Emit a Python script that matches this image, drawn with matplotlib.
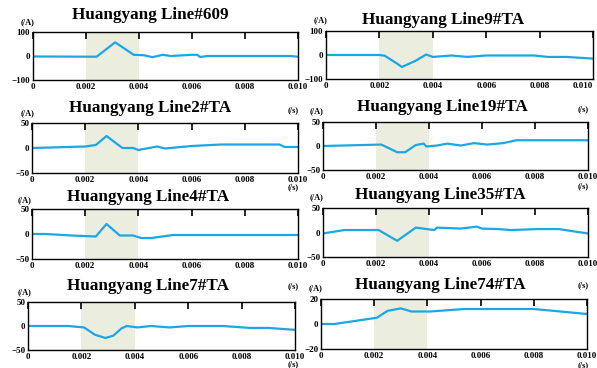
import matplotlib
matplotlib.use("Agg")
import matplotlib.pyplot as plt
from matplotlib.ticker import FuncFormatter

plt.rcParams['font.family'] = ['Liberation Serif', 'DejaVu Serif']
plt.rcParams['font.weight'] = 'bold'

titles = ["Huangyang Line#609", "Huangyang Line9#TA", "Huangyang Line2#TA", "Huangyang Line19#TA",
          "Huangyang Line4#TA", "Huangyang Line35#TA", "Huangyang Line7#TA", "Huangyang Line74#TA"]

# time (s) / current (A)
t_609 = [0, 0.0024, 0.0031, 0.0038, 0.0042, 0.0045, 0.0049, 0.0052, 0.006, 0.0062, 0.0063, 0.0066, 0.0097, 0.010]
i_609 = [-2, -3, 57, 5, 3, -5, 5, 0, 5, 5, -4, 0, 0, -3]
t_9 = [0, 0.002, 0.0022, 0.00265, 0.00284, 0.00334, 0.00375, 0.004, 0.0047, 0.0053, 0.006, 0.0078, 0.0083, 0.009, 0.010]
i_9 = [0, 0, -3, -35, -50, -25, 2, -8, -2, -8, -2, -2, -8, -8, -15]
t_2 = [0, 0.002, 0.0024, 0.0028, 0.0031, 0.0034, 0.0038, 0.004, 0.0047, 0.005, 0.006, 0.0071, 0.0093, 0.0095, 0.010]
i_2 = [0, 3, 6, 24, 12, 0, 0, -4, 3, -1, 4, 7, 7, 2, 2]
t_19 = [0, 0.0022, 0.0028, 0.0031, 0.0035, 0.0038, 0.0039, 0.0043, 0.0047, 0.0052, 0.0057, 0.0062, 0.0068, 0.0073, 0.008, 0.010]
i_19 = [0, 3, -13, -13, 2, 5, -1, 1, 5, 1, 6, 3, 6, 12, 12, 12]
t_4 = [0, 0.0005, 0.0015, 0.0024, 0.0028, 0.0033, 0.0038, 0.0041, 0.0045, 0.0053, 0.006, 0.010]
i_4 = [0, 0, -3, -5, 20, -3, -3, -8, -8, -2, -2, -2]
t_35 = [0, 0.0008, 0.0021, 0.0028, 0.0035, 0.0042, 0.0043, 0.0052, 0.0058, 0.006, 0.0066, 0.0071, 0.0081, 0.0089, 0.0095, 0.010]
i_35 = [-2, 5, 5, -17, 10, 5, 10, 8, 12, 8, 7, 5, 7, 7, 2, -2]
t_7 = [0, 0.0015, 0.0021, 0.0025, 0.0029, 0.0032, 0.0035, 0.0037, 0.0041, 0.0046, 0.0053, 0.006, 0.0073, 0.0083, 0.009, 0.010]
i_7 = [0, 0, -3, -18, -25, -20, -5, 0, -3, 0, -3, 0, 0, -4, -4, -8]
t_74 = [0, 0.0005, 0.0021, 0.0025, 0.003, 0.0034, 0.0041, 0.0054, 0.008, 0.0095, 0.010]
i_74 = [0, 0, 5, 10.5, 12.5, 10, 10, 12, 12, 9, 8]

times = [t_609, t_9, t_2, t_19, t_4, t_35, t_7, t_74]
currents = [i_609, i_9, i_2, i_19, i_4, i_35, i_7, i_74]
ylims = [(-100, 100), (-100, 100), (-50, 50), (-50, 50), (-50, 50), (-50, 50), (-50, 50), (-20, 20)]
xticks = [0, 0.002, 0.004, 0.006, 0.008, 0.010]
shade = (0.002, 0.004)

W, H = 597, 368
# axes boxes in pixels: left, top, right, bottom
boxes = [(33, 32, 298, 80), (326, 31, 593, 79),
         (32, 123, 298, 173), (323, 122, 588, 170),
         (32, 209, 298, 259), (323, 208, 588, 257),
         (28, 302, 295, 350), (321, 299, 587, 349)]
title_pos = [(150, 15), (443, 20), (150, 108), (442, 107),
             (148, 197), (440, 195), (148, 286), (440, 285)]
a_pos = [(28, 22), (321, 20), (28, 113), (317, 111),
         (25, 200), (317, 197), (25, 292), (316, 288)]
s_pos = [(293, 110), (293, 187), (583, 109), (583, 186),
         (293, 286), (293, 364), (583, 285), (583, 365)]

line_c = '#1BA7E6'
shade_c = '#EBEEDF'

fig = plt.figure(figsize=(W / 100, H / 100), dpi=100)

fmt = FuncFormatter(lambda v, p: '0' if v == 0 else '%.3f' % v)

for k in range(8):
    l, t, r, b = boxes[k]
    ax = fig.add_axes([l / W, 1 - b / H, (r - l) / W, (b - t) / H])
    ax.axvspan(shade[0], shade[1], color=shade_c, lw=0, zorder=0)
    ax.plot(times[k], currents[k], color=line_c, lw=1.6, zorder=2)
    ax.set_xlim(0, 0.010)
    ax.set_ylim(*ylims[k])
    ax.set_yticks([ylims[k][0], 0, ylims[k][1]])
    ax.set_xticks(xticks)
    ax.xaxis.set_major_formatter(fmt)
    ax.tick_params(axis='x', direction='in', top=True, bottom=False, length=5, width=1.2,
                   labelsize=6.5, pad=2)
    ax.tick_params(axis='y', length=0, labelsize=6.5, pad=2)
    for lab in ax.get_xticklabels() + ax.get_yticklabels():
        lab.set_fontweight('bold')
    if r > 590:
        ax.get_xticklabels()[-1].set_ha('right')
    for sp in ax.spines.values():
        sp.set_linewidth(1.0)
    fig.text(title_pos[k][0] / W, 1 - title_pos[k][1] / H, titles[k], ha='center', va='center',
             fontsize=12.3, fontweight='bold')
    fig.text(a_pos[k][0] / W, 1 - a_pos[k][1] / H, '(/A)', ha='center', va='center',
             fontsize=6, fontweight='bold')

for x, y in s_pos:
    fig.text(x / W, 1 - y / H, '(/s)', ha='center', va='center', fontsize=6, fontweight='bold')

fig.savefig('out.png', dpi=100)
